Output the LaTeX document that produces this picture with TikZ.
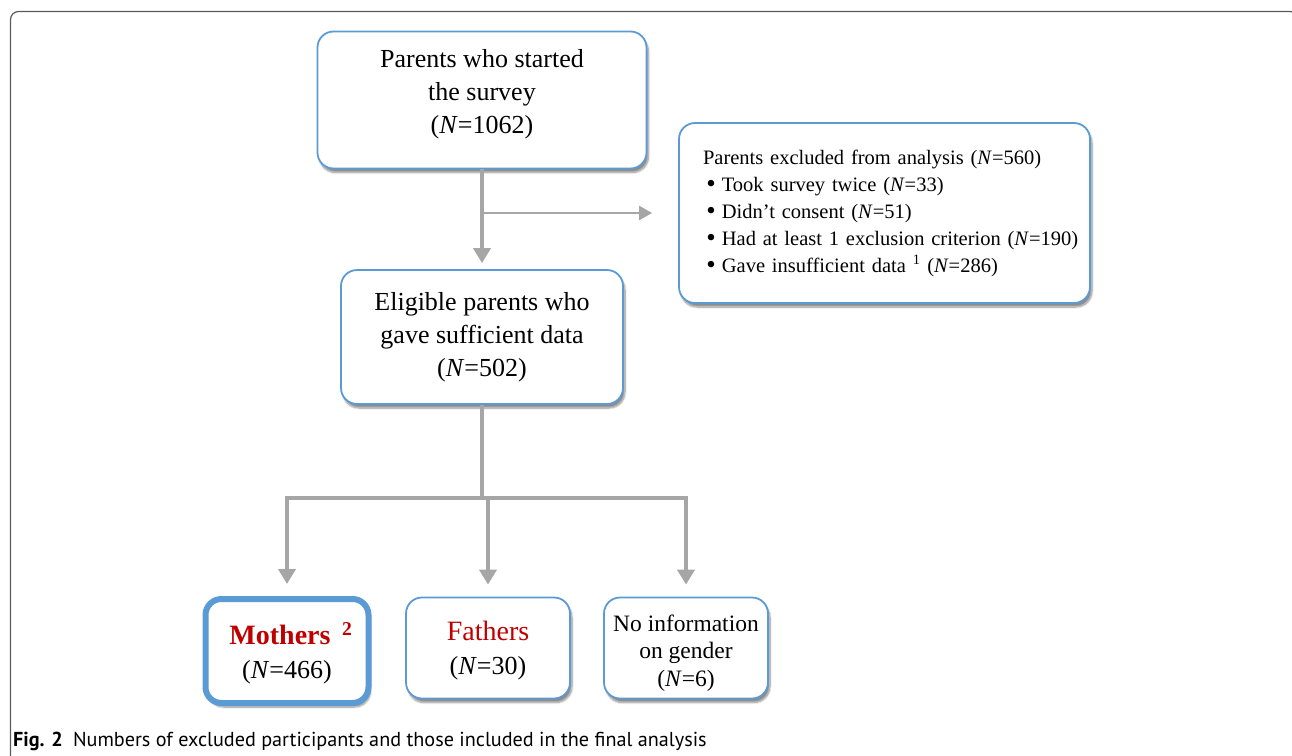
\documentclass[tikz,border=0pt]{standalone}
\usepackage{fontspec}
\setmainfont{Liberation Serif}
\newfontfamily\capfont{PT Sans}
\usetikzlibrary{arrows.meta,shadows.blur}

\definecolor{boxblue}{RGB}{91,155,213}
\definecolor{flowgray}{RGB}{166,166,166}
\definecolor{namered}{RGB}{192,0,0}
\definecolor{framegray}{RGB}{90,90,90}

\newcommand{\blt}{\raisebox{-1pt}{\fontsize{27}{27}\selectfont\textbullet}\hspace{6pt}}

\tikzset{
  box/.style={draw=boxblue, line width=1.8pt, rounded corners=16pt, fill=white, align=center,
    blur shadow={shadow xshift=2pt, shadow yshift=-4pt, shadow blur steps=8, shadow opacity=45}},
  trunk/.style={draw=flowgray, line width=4.5pt},
  flow/.style={trunk, -{Triangle[length=15pt,width=17pt]}},
  side/.style={draw=flowgray, line width=2.5pt, -{Triangle[length=13pt,width=14pt]}},
}

\begin{document}
\begin{tikzpicture}[x=1pt, y=-1pt]
  \useasboundingbox (0,0) rectangle (1292,755);
  \clip (0,0) rectangle (1292,755);
  % outer frame of the figure
  \draw[framegray, line width=1.2pt, rounded corners=8pt] (10.5,11.5) rectangle (1298,800);

  % boxes
  \node[box, minimum width=329pt, minimum height=137pt, font=\fontsize{26}{33}\selectfont]
    (start) at (482,100) {Parents who started\\the survey\\(\textit{N}=1062)\rule[-18pt]{0pt}{18pt}};
  \node[box, minimum width=411pt, minimum height=180pt, text width=363pt, align=left,
    font=\fontsize{20.5}{27}\selectfont]
    (excl) at (884.5,213) {Parents excluded from analysis (\textit{N}=560)\\
      \,\blt Took survey twice (\textit{N}=33)\\
      \,\blt Didn't consent (\textit{N}=51)\\
      \mbox{\,\blt Had at least 1 exclusion criterion (\textit{N}=190)}\\
      \,\blt Gave insufficient data \textsuperscript{1} (\textit{N}=286)};
  \node[box, minimum width=282pt, minimum height=134pt, font=\fontsize{26}{33}\selectfont]
    (elig) at (482,337) {Eligible parents who\\gave sufficient data\\(\textit{N}=502)};
  \node[box, line width=6pt, minimum width=163pt, minimum height=104pt, font=\fontsize{26}{34}\selectfont]
    (moth) at (287,651) {\rule{0pt}{26pt}\hspace*{8pt}{\fontsize{28}{34}\selectfont\bfseries\color{namered}Mothers\ \,\textsuperscript{2}}\\(\textit{N}=466)};
  \node[box, minimum width=164pt, minimum height=101pt, font=\fontsize{26}{34}\selectfont]
    (fath) at (488,648) {\rule{0pt}{25pt}{\fontsize{28}{34}\selectfont\color{namered}Fathers}\\(\textit{N}=30)};
  \node[box, minimum width=164pt, minimum height=101pt, font=\fontsize{23.5}{27.5}\selectfont]
    (noinfo) at (686,648) {\rule{0pt}{26pt}No information\\on gender\\(\textit{N}=6)};

  % connectors
  \coordinate (split) at (start.south |- excl.west);
  \coordinate (fork) at ([yshift=-93pt]elig.south);
  \draw[flow, shorten >=6pt] (start.south) -- (elig.north);
  \draw[side, shorten >=26pt] (split) -- (excl.west);
  \draw[trunk] (elig.south) -- (fork);
  \draw[flow, shorten >=12pt] (fork) -| (moth.north);
  \draw[flow, shorten >=12pt] (fork) -| (fath.north);
  \draw[flow, shorten >=12pt] (fork) -| (noinfo.north);

  % caption
  \node[anchor=base west, inner sep=0pt, font=\capfont\fontsize{20.2}{22}\selectfont]
    (caption) at (13,746) {\textbf{Fig. 2}\enspace Numbers of excluded participants and those included in the final analysis};
\end{tikzpicture}
\end{document}
